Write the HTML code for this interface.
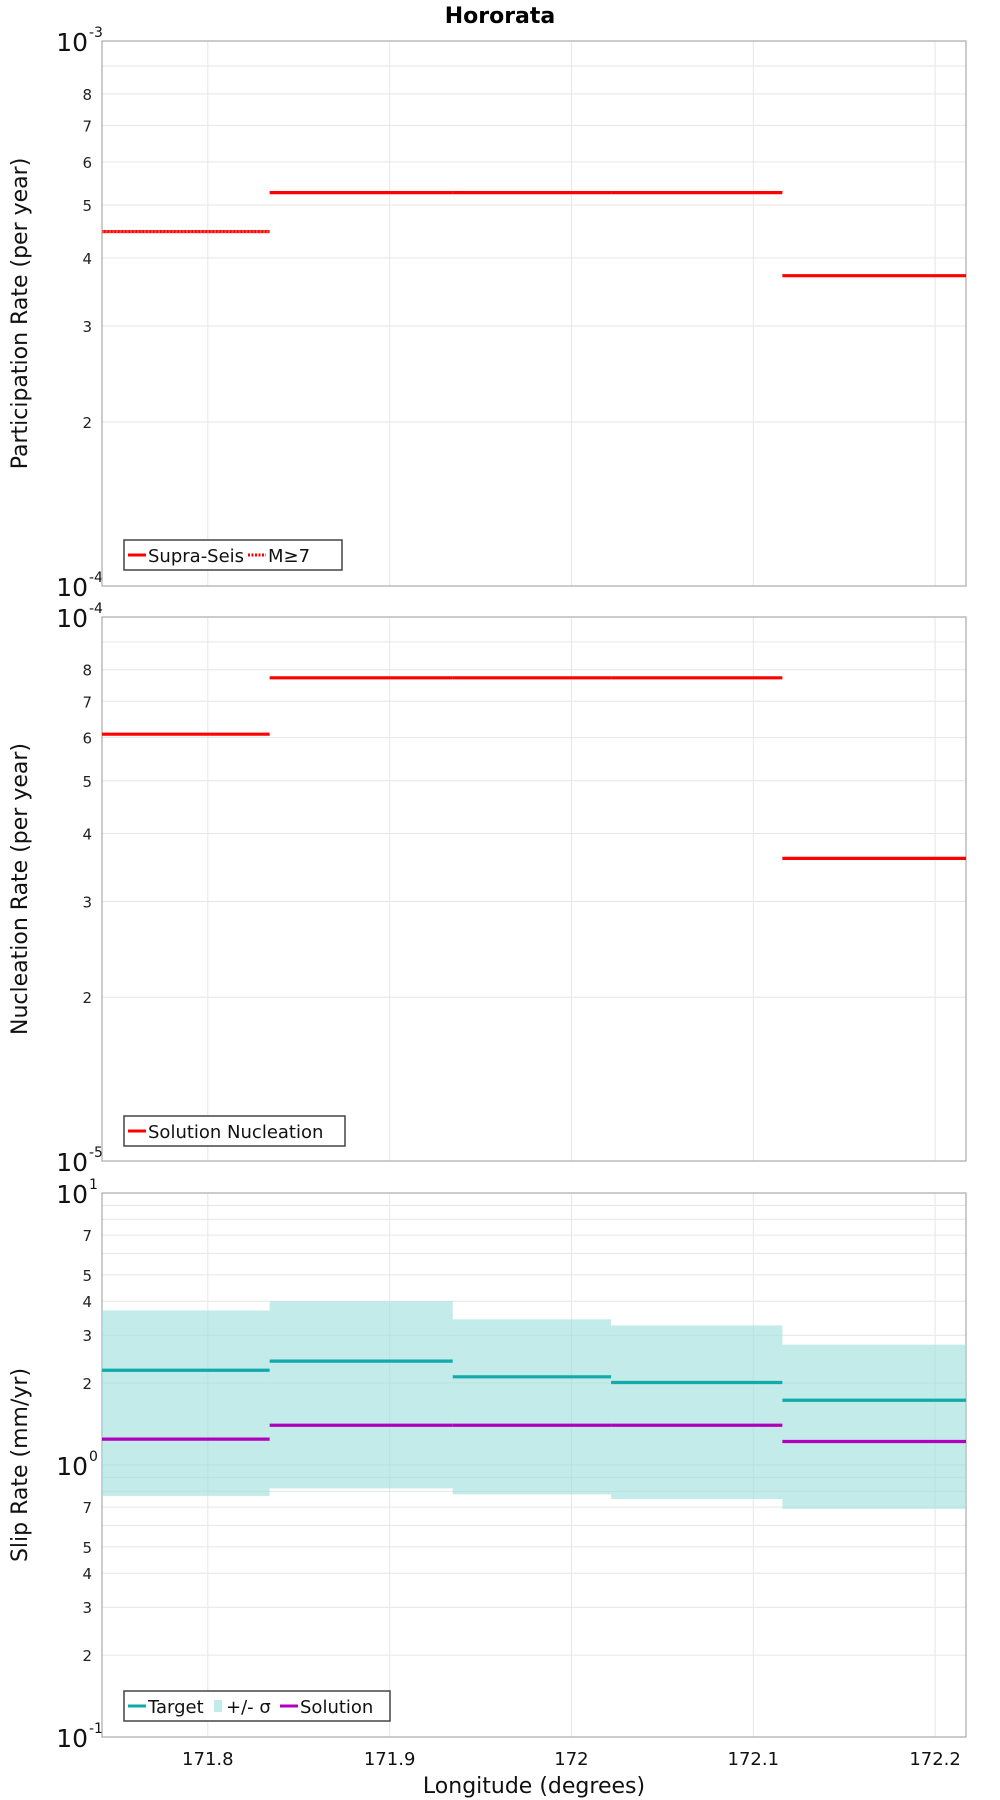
<!DOCTYPE html>
<html><head><meta charset="utf-8"><style>
body{margin:0;background:#fff}
svg{display:block;font-family:"DejaVu Sans","Liberation Sans",sans-serif}
</style></head><body>
<svg id="chart" width="1000" height="1800" viewBox="0 0 1000 1800" xmlns="http://www.w3.org/2000/svg">
<text x="500" y="23" text-anchor="middle" font-size="22" font-weight="bold">Hororata</text>
<g id="g"></g>
</svg>
<script>
const segLon = [171.7418, 171.834, 171.9347, 172.0218, 172.116, 172.217];
const xTicks = [171.8, 171.9, 172.0, 172.1, 172.2];
const xTickLabels = ["171.8", "171.9", "172", "172.1", "172.2"];
const partSupra = [4.47e-4, 5.27e-4, 5.27e-4, 5.27e-4, 3.71e-4];
const partM7 = [4.47e-4, null, null, null, null];
const nuclSolution = [6.09e-5, 7.73e-5, 7.73e-5, 7.73e-5, 3.6e-5];
const slipTarget = [2.23, 2.41, 2.11, 2.01, 1.73];
const slipUpper = [3.70, 4.0, 3.43, 3.26, 2.77];
const slipLower = [0.77, 0.82, 0.78, 0.75, 0.69];
const slipSolution = [1.245, 1.40, 1.40, 1.40, 1.22];

const NS = "http://www.w3.org/2000/svg";
const g = document.getElementById("g");
const L = 102, R = 966;
function X(v){ return L + (v - segLon[0]) / (segLon[segLon.length-1] - segLon[0]) * (R - L); }
function mk(tag, attrs, parent){ const e = document.createElementNS(NS, tag); for (const k in attrs) e.setAttribute(k, attrs[k]); (parent||g).appendChild(e); return e; }

function panel(name, top, bot, lo, hi, title, expLo, expHi){
  const p = mk("g", {});
  
  
  const Y = v => bot - (Math.log10(v) - Math.log10(lo)) / (Math.log10(hi) - Math.log10(lo)) * (bot - top);
  for (let d = lo; d < hi * 0.999; d *= 10) {
    for (let m = 1; m <= 9; m++) {
      const v = d * m; const y = Y(v);
      if (m > 1) {
        const gl = mk("line", {x1:L, x2:R, y1:y, y2:y, stroke:"#e6e6e6", "stroke-width":1}, p);
        
        
        if ([2,3,4,5,6,7,8].includes(m) && !(hi/lo > 10 && m === 6) && !(hi/lo > 10 && m === 8)) {
          const t = mk("text", {x: L - 10, y: y + 6, "text-anchor":"end", "font-size":15, fill:"#222"}, p);
          t.textContent = String(m);
          
          
        }
      } else if (d > lo) {
        const gl = mk("line", {x1:L, x2:R, y1:y, y2:y, stroke:"#e6e6e6", "stroke-width":1}, p);
        
        
      }
    }
  }
  xTicks.forEach(v => {
    const gl = mk("line", {x1:X(v), x2:X(v), y1:top, y2:bot, stroke:"#e6e6e6", "stroke-width":1}, p);
    
    
  });
  const decs = [];
  for (let e = expLo; e <= expHi; e++) decs.push(e);
  decs.forEach(e => {
    const y = Y(Math.pow(10, e));
    const t = mk("text", {x: L - 14, y: y + 10, "text-anchor":"end", "font-size":25, fill:"#111"}, p);
    t.textContent = "10";
    
    
    const s = mk("text", {x: L - 13, y: y - 4, "text-anchor":"start", "font-size":14, fill:"#111"}, p);
    s.textContent = String(e);
    
    
  });
  mk("rect", {x:L, y:top, width:R-L, height:bot-top, fill:"none", stroke:"#aaa", "stroke-width":1.2}, p);
  const yt = mk("text", {x:0, y:0, transform:`translate(27,${(top+bot)/2}) rotate(-90)`, "text-anchor":"middle", "font-size":22, fill:"#111"}, p);
  yt.textContent = title;
  
  
  return {p, Y};
}
function steps(pn, Y, vals, color, name, dash){
  vals.forEach((v, i) => {
    if (v === null) return;
    const ln = mk("line", {x1:X(segLon[i]), x2:X(segLon[i+1]), y1:Y(v), y2:Y(v), stroke:color, "stroke-width":3.2}, pn);
    if (dash) ln.setAttribute("stroke-dasharray", dash);
    
    
  });
}
function legend(pn, x, y, w, items){
  const box = mk("rect", {x, y, width:w, height:30, fill:"#fff", stroke:"#444", "stroke-width":1.5}, pn);
  
  
  let cx = x + 4;
  items.forEach(it => {
    if (it.band) {
      const r = mk("rect", {x:cx, y:y+9, width:8, height:12, fill:it.color}, pn);
      
      
      cx += 12;
    } else {
      const l = mk("line", {x1:cx, x2:cx+18, y1:y+15, y2:y+15, stroke:it.color, "stroke-width":3}, pn);
      if (it.dash) l.setAttribute("stroke-dasharray", it.dash);
      
      
      cx += 20;
    }
    const t = mk("text", {x:cx, y:y+22, "font-size":18, fill:"#111"}, pn);
    t.textContent = it.label;
    
    
    cx += it.w;
  });
}

let a = panel("participation-panel", 41, 586, 1e-4, 1e-3, "Participation Rate (per year)", -4, -3);
steps(a.p, a.Y, partSupra, "#ff0000", "supra-seis-line");
steps(a.p, a.Y, partM7, "#ff4444", "m7-line", "2,1.5");
legend(a.p, 124, 540, 218, [{label:"Supra-Seis", color:"#ff0000", w:100},{label:"M≥7", color:"#ff0000", dash:"2,1.5", w:50}]);

let b = panel("nucleation-panel", 617, 1161, 1e-5, 1e-4, "Nucleation Rate (per year)", -5, -4);
steps(b.p, b.Y, nuclSolution, "#ff0000", "solution-nucleation-line");
legend(b.p, 124, 1116, 221, [{label:"Solution Nucleation", color:"#ff0000", w:200}]);

let c = panel("slip-rate-panel", 1193, 1737, 0.1, 10, "Slip Rate (mm/yr)", -1, 1);
slipUpper.forEach((u, i) => {
  const r = mk("rect", {x:X(segLon[i]), y:c.Y(u), width:X(segLon[i+1])-X(segLon[i]), height:c.Y(slipLower[i])-c.Y(u), fill:"#9edfdc", "fill-opacity":0.62}, c.p);
  
  
});
steps(c.p, c.Y, slipTarget, "#10aaaa", "target-line");
steps(c.p, c.Y, slipSolution, "#b000bb", "solution-line");
legend(c.p, 124, 1691, 266, [{label:"Target", color:"#10aaaa", w:66},{label:"+/- σ", color:"#c2ebea", band:true, w:54},{label:"Solution", color:"#b000bb", w:90}]);

xTicks.forEach((v, i) => {
  const t = mk("text", {x:X(v), y:1765, "text-anchor":"middle", "font-size":18, fill:"#111"});
  t.textContent = xTickLabels[i];
  
  
});
const xt = mk("text", {x:534, y:1793, "text-anchor":"middle", "font-size":22, fill:"#111"});
xt.textContent = "Longitude (degrees)";


</script>
</body></html>
